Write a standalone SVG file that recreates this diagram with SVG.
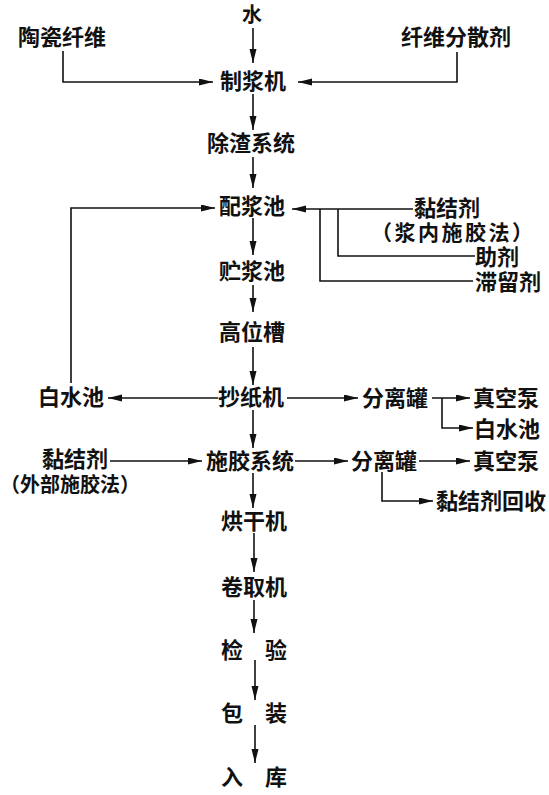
<svg xmlns="http://www.w3.org/2000/svg" width="549" height="795" viewBox="0 0 549 795">
<style>
text{font-family:"Noto Sans CJK SC","Noto Sans CJK JP",sans-serif;font-size:22px;font-weight:bold;fill:#111;text-anchor:middle}
text.s{text-anchor:start;font-size:21px}
.c{fill:none;stroke:#111;stroke-width:1.6}
.a{marker-end:url(#ah)}
</style>
<defs>
<marker id="ah" markerUnits="userSpaceOnUse" markerWidth="15" markerHeight="8" refX="14" refY="3.5" orient="auto">
<path d="M0,0 L14,3.5 L0,7 z" fill="#111"/>
</marker>
</defs>
<rect width="549" height="795" fill="#fff"/>
<g id="connectors">
<path class="c a" d="M253,28 V63"/>
<path class="c a" d="M63,51 V82 H213"/>
<path class="c a" d="M457,52 V82 H298"/>
<path class="c a" d="M253,94 V130"/>
<path class="c a" d="M253,157 V188"/>
<path class="c a" d="M253,218 V255"/>
<path class="c a" d="M253,285 V312"/>
<path class="c a" d="M253,347 V385"/>
<path class="c a" d="M253,410 V448"/>
<path class="c a" d="M253,473 V508"/>
<path class="c a" d="M254,533 V572"/>
<path class="c a" d="M254,600 V633"/>
<path class="c a" d="M255,660 V700"/>
<path class="c a" d="M255,725 V763"/>
<path class="c a" d="M413,209 H292"/>
<path class="c" d="M338,209 V256 H475"/>
<path class="c" d="M320,209 V281 H473"/>
<path class="c a" d="M71,383 V208 H215"/>
<path class="c a" d="M218,398 H108"/>
<path class="c a" d="M287,398 H358"/>
<path class="c a" d="M432,398 H470"/>
<path class="c a" d="M442,398 V428 H473"/>
<path class="c a" d="M110,461 H202"/>
<path class="c a" d="M295,461 H348"/>
<path class="c a" d="M419,461 H470"/>
<path class="c a" d="M382,472 V501 H433"/>
</g>
<g id="n-water"><text x="252" y="22" style="font-size:20px">水</text></g>
<g id="n-fiber"><text x="62" y="45">陶瓷纤维</text></g>
<g id="n-dispersant"><text x="456" y="45">纤维分散剂</text></g>
<g id="n-pulper"><text x="253" y="89">制浆机</text></g>
<g id="n-deslag"><text x="251" y="151">除渣系统</text></g>
<g id="n-mixing"><text x="252" y="214">配浆池</text></g>
<g id="n-binder1"><text x="447" y="216">黏结剂</text><text class="s" x="371" y="240" letter-spacing="2.5">（浆内施胶法）</text></g>
<g id="n-aid"><text x="497" y="265">助剂</text></g>
<g id="n-retention"><text x="508" y="290">滞留剂</text></g>
<g id="n-storage"><text x="252" y="279">贮浆池</text></g>
<g id="n-headbox"><text x="252" y="340">高位槽</text></g>
<g id="n-papermachine"><text x="251" y="405">抄纸机</text></g>
<g id="n-whitewater1"><text x="71" y="405">白水池</text></g>
<g id="n-separator1"><text x="395" y="406">分离罐</text></g>
<g id="n-vacuum1"><text x="506" y="406">真空泵</text></g>
<g id="n-whitewater2"><text x="507" y="437">白水池</text></g>
<g id="n-sizing"><text x="250" y="469">施胶系统</text></g>
<g id="n-binder2"><text x="75" y="467">黏结剂</text><text class="s" x="0" y="492" style="font-size:20px">（外部施胶法）</text></g>
<g id="n-separator2"><text x="384" y="469">分离罐</text></g>
<g id="n-vacuum2"><text x="506" y="469">真空泵</text></g>
<g id="n-recovery"><text x="491" y="509">黏结剂回收</text></g>
<g id="n-dryer"><text x="254" y="529">烘干机</text></g>
<g id="n-winder"><text x="254" y="595">卷取机</text></g>
<g id="n-inspect"><text x="254" y="658">检　验</text></g>
<g id="n-pack"><text x="254" y="721">包　装</text></g>
<g id="n-store"><text x="254" y="785">入　库</text></g>
</svg>
